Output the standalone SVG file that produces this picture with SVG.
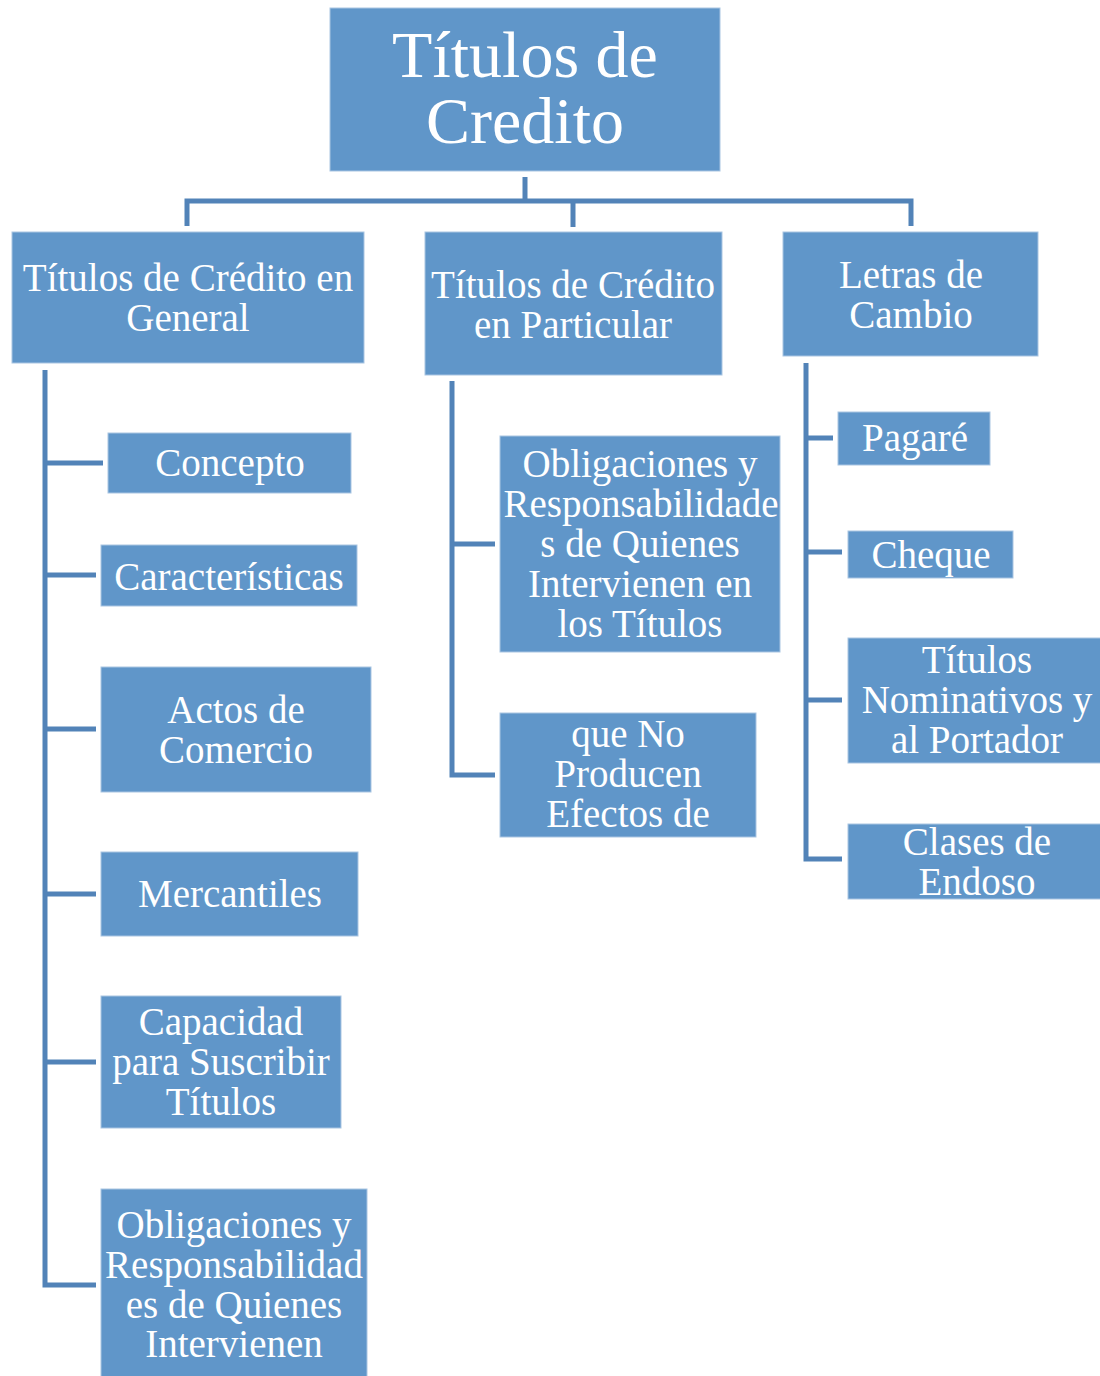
<svg xmlns="http://www.w3.org/2000/svg" width="1100" height="1376" viewBox="0 0 1100 1376">
<style>
.box{fill:#6096c9;stroke:#a9c5e2;stroke-width:1}
.t{font-family:"Liberation Serif","DejaVu Serif",serif;font-size:39px;fill:#ffffff;text-anchor:middle}
.root{font-size:66px}
.c{fill:none;stroke:#5283b8;stroke-width:5;stroke-linejoin:miter}
</style>
<rect width="1100" height="1376" fill="#ffffff"/>
<g id="connectors">
<path class="c" d="M525,177 V201 M187,226 V201 H911 V226 M573,201 V227"/>
<path class="c" d="M45,370 V1285 H96 M45,463 H103 M45,575 H96 M45,729 H96 M45,894 H96 M45,1062 H96"/>
<path class="c" d="M452,381 V775 H495 M452,544 H495"/>
<path class="c" d="M806,363 V859 H842 M806,438 H833 M806,552 H842 M806,700 H842"/>
</g>
<g id="root"><rect class="box" x="330" y="8" width="390" height="163"/>
<text class="t root" x="525" y="77">Títulos de</text><text class="t root" x="525" y="143">Credito</text></g>
<g id="general"><rect class="box" x="12" y="232" width="352" height="131"/>
<text class="t" x="188" y="291">Títulos de Crédito en</text><text class="t" x="188" y="331">General</text></g>
<g id="particular"><rect class="box" x="425" y="232" width="297" height="143"/>
<text class="t" x="573" y="298">Títulos de Crédito</text><text class="t" x="573" y="338">en Particular</text></g>
<g id="letras"><rect class="box" x="783" y="232" width="255" height="124"/>
<text class="t" x="911" y="288">Letras de</text><text class="t" x="911" y="328">Cambio</text></g>
<g id="concepto"><rect class="box" x="108" y="433" width="243" height="60"/>
<text class="t" x="230" y="476">Concepto</text></g>
<g id="caracteristicas"><rect class="box" x="101" y="545" width="256" height="61"/>
<text class="t" x="229" y="590">Características</text></g>
<g id="actos"><rect class="box" x="101" y="667" width="270" height="125"/>
<text class="t" x="236" y="723">Actos de</text><text class="t" x="236" y="763">Comercio</text></g>
<g id="mercantiles"><rect class="box" x="101" y="852" width="257" height="84"/>
<text class="t" x="230" y="907">Mercantiles</text></g>
<g id="capacidad"><rect class="box" x="101" y="996" width="240" height="132"/>
<text class="t" x="221" y="1035">Capacidad</text><text class="t" x="221" y="1075">para Suscribir</text><text class="t" x="221" y="1115">Títulos</text></g>
<g id="obligaciones-general"><rect class="box" x="101" y="1189" width="266" height="190"/>
<text class="t" x="234" y="1238">Obligaciones y</text><text class="t" x="234" y="1278">Responsabilidad</text><text class="t" x="234" y="1318">es de Quienes</text><text class="t" x="234" y="1357">Intervienen</text></g>
<g id="obligaciones-particular"><rect class="box" x="500" y="436" width="280" height="216"/>
<text class="t" x="640" y="477">Obligaciones y</text><text class="t" x="641" y="517">Responsabilidade</text><text class="t" x="640" y="557">s de Quienes</text><text class="t" x="640" y="597">Intervienen en</text><text class="t" x="640" y="637">los Títulos</text></g>
<g id="que-no"><rect class="box" x="500" y="713" width="256" height="124"/>
<text class="t" x="628" y="747">que No</text><text class="t" x="628" y="787">Producen</text><text class="t" x="628" y="827">Efectos de</text></g>
<g id="pagare"><rect class="box" x="838" y="412" width="152" height="53"/>
<text class="t" x="915" y="451">Pagaré</text></g>
<g id="cheque"><rect class="box" x="848" y="531" width="165" height="47"/>
<text class="t" x="931" y="568">Cheque</text></g>
<g id="nominativos"><rect class="box" x="848" y="638" width="254" height="125"/>
<text class="t" x="977" y="673">Títulos</text><text class="t" x="977" y="713">Nominativos y</text><text class="t" x="977" y="753">al Portador</text></g>
<g id="clases"><rect class="box" x="848" y="824" width="254" height="75"/>
<text class="t" x="977" y="855">Clases de</text><text class="t" x="977" y="895">Endoso</text></g>
</svg>
